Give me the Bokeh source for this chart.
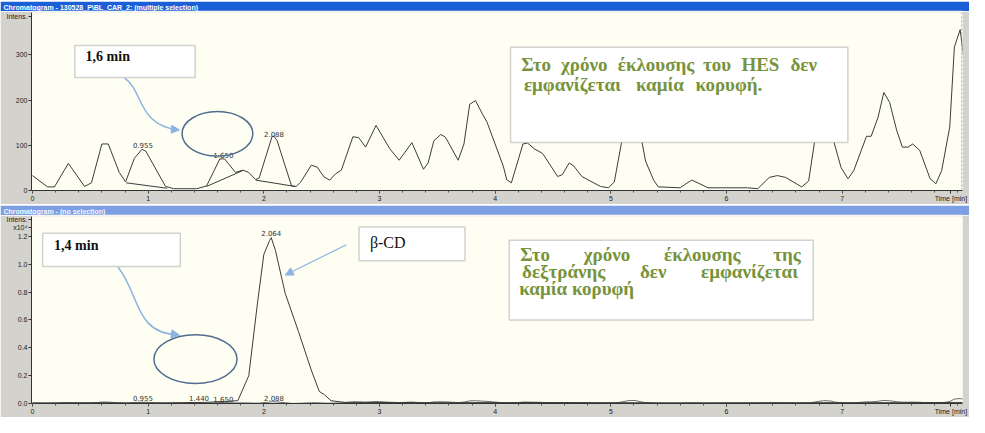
from bokeh.plotting import figure
from bokeh.layouts import column
from bokeh.models import (ColumnDataSource, Range1d, FixedTicker, PrintfTickFormatter,
                          BoxAnnotation, Label, Arrow, NormalHead, Span, Title)
from bokeh.core.properties import value
from bokeh.embed import file_html
from bokeh.resources import INLINE

# ---------------- data ----------------
# upper chromatogram (blank, multiple selection) - time [min], intensity
top_time = [0.00, 0.13, 0.19, 0.31, 0.45, 0.51, 0.60, 0.655, 0.75, 0.805, 0.88, 0.946, 0.98,
            1.15, 1.22, 1.42, 1.505, 1.62, 1.66, 1.755, 1.82, 1.87, 1.93, 1.96, 2.072, 2.088,
            2.115, 2.24, 2.28, 2.32, 2.41, 2.46, 2.52, 2.57, 2.62, 2.67, 2.77, 2.82, 2.88, 2.97,
            3.09, 3.17, 3.28, 3.38, 3.42, 3.47, 3.53, 3.57, 3.68, 3.73, 3.78, 3.83, 3.89, 3.93,
            4.07, 4.10, 4.14, 4.24, 4.28, 4.34, 4.41, 4.54, 4.58, 4.64, 4.68, 4.75, 4.91, 4.98,
            5.03, 5.09, 5.15, 5.21, 5.27, 5.30, 5.37, 5.41, 5.60, 5.65, 5.70, 5.76, 5.84, 6.18,
            6.27, 6.37, 6.44, 6.51, 6.65, 6.71, 6.76, 6.84, 6.90, 6.93, 6.99, 7.05, 7.10, 7.21,
            7.25, 7.31, 7.36, 7.41, 7.47, 7.52, 7.57, 7.61, 7.67, 7.76, 7.81, 7.86, 7.93, 7.97,
            8.02, 8.05]
top_inten = [33, 8, 8, 60, 9, 17, 103, 103, 40, 19, 71, 91, 87,
             9, 4, 4, 10, 70, 70, 40, 45, 40, 24, 28, 120, 120,
             110, 10, 9, 19, 56, 52, 30, 23, 37, 45, 119, 117, 96, 144,
             92, 67, 106, 47, 61, 110, 124, 118, 67, 103, 191, 199, 169, 151,
             54, 24, 17, 103, 105, 92, 82, 31, 35, 61, 54, 31, 9, 6,
             19, 103, 205, 215, 106, 65, 23, 8, 6, 15, 23, 16, 6, 6,
             4, 29, 33, 29, 8, 21, 106, 205, 180, 106, 51, 26, 44, 120,
             120, 162, 217, 195, 134, 96, 96, 103, 89, 26, 15, 44, 141, 318,
             356, 294]

# integration baselines in the upper trace (start t, start I, end t, end I)
base_t0 = [0.81, 1.505, 1.93]
base_i0 = [17, 9, 23]
base_t1 = [1.165, 1.817, 2.27]
base_i1 = [5, 44, 9]

# upper peak labels
top_pk_time = [0.955, 1.650, 2.088]
top_pk_ypos = [100, 79, 124]
top_pk_text = ["0.955", "1.650", "2.088"]

# lower chromatogram (x10^4)
bot_time = [0.00, 0.50, 1.00, 1.50, 1.775, 1.87, 1.945, 2.00, 2.05, 2.064, 2.10, 2.185,
            2.30, 2.41, 2.48, 2.525, 2.58, 2.70, 3.50, 4.50, 5.50, 6.50, 7.50, 8.05]
bot_inten = [0.004, 0.006, 0.004, 0.008, 0.02, 0.20, 0.72, 1.07, 1.17, 1.19, 1.10, 0.79,
             0.515, 0.24, 0.086, 0.063, 0.02, 0.008, 0.006, 0.007, 0.005, 0.006, 0.006, 0.008]

bot_pk_time = [2.064, 0.955, 1.440, 1.650, 2.088]
bot_pk_ypos = [1.225, 0.036, 0.040, 0.033, 0.036]
bot_pk_text = ["2.064", "0.955", "1.440", "1.650", "2.088"]

x_major = [0, 1, 2, 3, 4, 5, 6, 7]
x_minor = [i / 5 for i in range(0, 41)]
x_name_pos = 7.94
top_yticks = [0, 100, 200, 300]
top_yname_pos = 386
bot_yticks = [0.0, 0.2, 0.4, 0.6, 0.8, 1.0, 1.2]
bot_yname_pos = 1.318
bot_yexp_pos = 1.266

# ---------------- style ----------------
W = 969
CHROME = "#d4d2cc"
PLOTBG = "#fefef3"
TRACE = "#3c3c3c"
GREEN = "#77933c"
ARROW = "#8db3e2"
ELLIPSE = "#4f6d8f"
BOXLINE = "#6a6a6a"
TICKFONT = "7px"
SERIF = "Liberation Serif"
GSIZE = "19px"


def title_bar(text, bg, fg, h):
    b = figure(width=W, height=h, x_axis_type=None, y_axis_type=None,
               toolbar_location=None, output_backend="svg",
               min_border_left=31, min_border_right=7, min_border_top=0,
               min_border_bottom=0)
    b.grid.visible = False
    b.outline_line_color = None
    b.background_fill_color = bg
    b.border_fill_color = bg
    b.title = Title(text=text, align="left", offset=-28, standoff=0,
                    text_font="Liberation Sans", text_font_style="bold",
                    text_font_size="7px", text_color=fg, text_line_height=1.15)
    return b


def style_axes(p, yticks, yfmt, yextra, xname):
    p.grid.visible = False
    p.outline_line_color = None
    p.background_fill_color = PLOTBG
    p.border_fill_color = CHROME
    p.xaxis.ticker = FixedTicker(ticks=x_major + [x_name_pos], minor_ticks=x_minor)
    p.xaxis.major_label_overrides = {x_name_pos: xname}
    p.yaxis.ticker = FixedTicker(ticks=yticks + list(yextra.keys()))
    p.yaxis.formatter = PrintfTickFormatter(format=yfmt)
    p.yaxis.major_label_overrides = yextra
    for ax in (p.xaxis, p.yaxis):
        ax.major_label_text_font_size = TICKFONT
        ax.major_label_text_font = "Liberation Sans"
        ax.major_label_text_color = "#222222"
        ax.axis_line_color = "#333333"
        ax.major_tick_line_color = "#333333"
        ax.minor_tick_line_color = "#555555"
        ax.major_tick_in = 0
        ax.major_tick_out = 3
        ax.minor_tick_in = 0
        ax.minor_tick_out = 2
        ax.major_label_standoff = 1
    p.yaxis.minor_tick_line_color = None


def green_words(p, words, size, align="center"):
    for w, x, y in words:
        p.add_layout(Label(x=x, y=y, text=w, text_font=SERIF, text_font_style="bold",
                           text_font_size=size, text_color=GREEN, text_align=align,
                           text_baseline="middle"))


x_rng = Range1d(-0.0085, 8.04)

# ---------------- upper panel ----------------
bar1 = title_bar("Chromatogram - 130528_P\\BL_CAR_2: (multiple selection)", "#1b5fd6", "#ffffff", 11)

p1 = figure(width=W, height=193, x_range=x_rng, y_range=Range1d(0, 394),
            toolbar_location=None, output_backend="svg",
            min_border_left=31, min_border_right=7, min_border_top=1, min_border_bottom=0)
style_axes(p1, top_yticks, "%d", {top_yname_pos: "Intens."}, "Time [min]")

src1 = ColumnDataSource(dict(t=top_time, i=top_inten))
p1.line("t", "i", source=src1, line_color=TRACE, line_width=1)
p1.segment(x0=base_t0, y0=base_i0, x1=base_t1, y1=base_i1, line_color=TRACE, line_width=1)
p1.text(x=top_pk_time, y=top_pk_ypos, text=top_pk_text, text_font=value("DejaVu Sans"),
        text_font_size="7px", text_color="#333333", text_align="center",
        text_baseline="middle")

p1.add_layout(Span(location=8.035, dimension="height", line_color="#909090",
                   line_dash="2 2", line_width=1))

# annotations upper
p1.add_layout(BoxAnnotation(left=0.366, right=1.406, bottom=250, top=321,
                            fill_color="#ffffff", fill_alpha=1,
                            line_color=BOXLINE, line_width=1.5))
p1.add_layout(Label(x=0.459, y=296, text="1,6 min", text_font=SERIF,
                    text_font_style="bold", text_font_size="14px", text_color="#111111",
                    text_baseline="middle"))
p1.bezier(x0=[0.797], y0=[248.5], x1=[1.264], y1=[134], cx0=[0.96], cy0=[222],
          cx1=[0.90], cy1=[145], line_color=ARROW, line_width=1.5)
p1.add_layout(Arrow(end=NormalHead(size=8, fill_color=ARROW, line_color=ARROW),
                    x_start=1.21, y_start=135.5, x_end=1.27, y_end=134,
                    line_color=ARROW, line_width=1.5))
p1.ellipse(x=[1.599], y=[125.6], width=[0.612], height=[98.7], fill_color=None,
           line_color=ELLIPSE, line_width=1.5)

p1.add_layout(BoxAnnotation(left=4.133, right=7.049, bottom=106, top=317,
                            fill_color="#ffffff", fill_alpha=1,
                            line_color=BOXLINE, line_width=1.5))
green_words(p1, [("Στο", 4.354, 279), ("χρόνο", 4.770, 279), ("έκλουσης", 5.391, 279),
                 ("του", 5.918, 279), ("HES", 6.293, 279), ("δεν", 6.667, 279),
                 ("εμφανίζεται", 4.668, 235), ("καμία", 5.425, 235),
                 ("κορυφή.", 6.020, 235)], GSIZE)

# ---------------- lower panel ----------------
bar2 = title_bar("Chromatogram - (no selection)", "#7b9fe2", "#f4f7ff", 11)

p2 = figure(width=W, height=202, x_range=x_rng, y_range=Range1d(0, 1.342),
            toolbar_location=None, output_backend="svg",
            min_border_left=31, min_border_right=7, min_border_top=1, min_border_bottom=0)
style_axes(p2, bot_yticks, "%.1f", {bot_yname_pos: "Intens.", bot_yexp_pos: "x10⁴"},
           "Time [min]")

src_over = ColumnDataSource(dict(t=top_time, i=[v / 10000 for v in top_inten]))
p2.line("t", "i", source=src_over, line_color="#6a6a6a", line_width=1)
src2 = ColumnDataSource(dict(t=bot_time, i=bot_inten))
p2.line("t", "i", source=src2, line_color=TRACE, line_width=1)
p2.text(x=bot_pk_time, y=bot_pk_ypos, text=bot_pk_text, text_font=value("DejaVu Sans"),
        text_font_size="7px", text_color="#333333", text_align="center",
        text_baseline="middle")

p2.add_layout(BoxAnnotation(left=0.088, right=1.278, bottom=0.983, top=1.222,
                            fill_color="#ffffff", fill_alpha=1,
                            line_color=BOXLINE, line_width=1.5))
p2.add_layout(Label(x=0.187, y=1.132, text="1,4 min", text_font=SERIF,
                    text_font_style="bold", text_font_size="14px", text_color="#111111",
                    text_baseline="middle"))
p2.bezier(x0=[0.740], y0=[0.978], x1=[1.264], y1=[0.493], cx0=[0.93], cy0=[0.78],
          cx1=[0.88], cy1=[0.50], line_color=ARROW, line_width=1.5)
p2.add_layout(Arrow(end=NormalHead(size=8, fill_color=ARROW, line_color=ARROW),
                    x_start=1.20, y_start=0.500, x_end=1.27, y_end=0.492,
                    line_color=ARROW, line_width=1.5))
p2.ellipse(x=[1.409], y=[0.319], width=[0.719], height=[0.350], fill_color=None,
           line_color=ELLIPSE, line_width=1.5)

p2.add_layout(BoxAnnotation(left=2.823, right=3.739, bottom=1.024, top=1.266,
                            fill_color="#ffffff", fill_alpha=1,
                            line_color=BOXLINE, line_width=1.5))
p2.add_layout(Label(x=2.917, y=1.159, text="β-CD", text_font=SERIF,
                    text_font_size="16px", text_color="#111111", text_baseline="middle"))
p2.add_layout(Arrow(end=NormalHead(size=8, fill_color=ARROW, line_color=ARROW),
                    x_start=2.713, y_start=1.139, x_end=2.185, y_end=0.922,
                    line_color=ARROW, line_width=1.2))

p2.add_layout(BoxAnnotation(left=4.122, right=6.749, bottom=0.599, top=1.171,
                            fill_color="#ffffff", fill_alpha=1,
                            line_color=BOXLINE, line_width=1.5))
green_words(p2, [("Στο", 4.345, 1.072), ("χρόνο", 4.966, 1.072),
                 ("έκλουσης", 5.791, 1.072), ("της", 6.522, 1.072),
                 ("δεξτράνης", 4.592, 0.949), ("δεν", 5.366, 0.949),
                 ("εμφανίζεται", 6.199, 0.949)], GSIZE)
green_words(p2, [("καμία κορυφή", 4.209, 0.822)], GSIZE, align="left")

layout = column(bar1, p1, bar2, p2, spacing=0)
open("out.html", "w").write(file_html(layout, INLINE))
